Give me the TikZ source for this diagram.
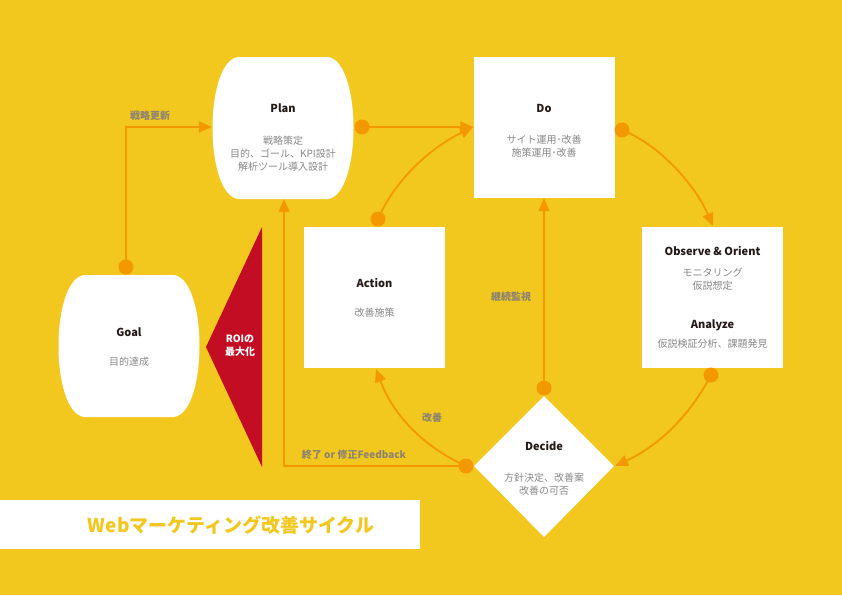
\documentclass[tikz,border=0pt]{standalone}
\usepackage{fontspec}
\setmainfont{Noto Sans CJK JP}
\usetikzlibrary{arrows.meta}
\definecolor{bg}{HTML}{F2C71E}
\definecolor{org}{HTML}{F39800}
\definecolor{redc}{HTML}{C30D23}
\definecolor{tgray}{HTML}{888888}
\definecolor{lgray}{HTML}{8C8470}
\definecolor{dark}{HTML}{231815}
\tikzset{
 box/.style={fill=white,draw=none,minimum width=141pt,minimum height=141pt,inner sep=0pt},
 conn/.style={draw=org,line width=1.8pt,-{Triangle[length=13pt,width=11pt]}},
 dotc/.style={circle,fill=org,minimum size=15pt,inner sep=0pt},
 ttl/.style={font=\fontsize{11}{13}\selectfont\bfseries,text=dark},
 bdy/.style={font=\fontsize{10}{13}\selectfont,text=tgray,align=center},
 lbl/.style={font=\fontsize{10}{12}\selectfont\bfseries,text=lgray}
}
\begin{document}
\begin{tikzpicture}[x=1pt,y=-1pt]
\fill[bg] (0,0) rectangle (842,595);
\useasboundingbox (0,0) rectangle (842,595);
% barrel shapes
\fill[white] (238,57) -- (328,57) .. controls (362,62) and (362,194) .. (328,199) -- (238,199) .. controls (204,194) and (204,62) .. (238,57) -- cycle;
\fill[white] (84,275) -- (174,275) .. controls (208,280) and (208,412) .. (174,417) -- (84,417) .. controls (50,412) and (50,280) .. (84,275) -- cycle;
\node[minimum width=142pt,minimum height=142pt] (plan) at (283,128) {};
\node[minimum width=142pt,minimum height=142pt] (goal) at (129,346) {};
\node[box] (do) at (544,127.5) {};
\node[box] (act) at (374.5,297.5) {};
\node[box] (obs) at (712.5,297.5) {};
\fill[white] (544,396) -- (614,466) -- (544,537) -- (474,466) -- cycle;
\node[minimum width=140pt,minimum height=141pt] (dec) at (544,466) {};
\fill[redc] (262,227) -- (262,467) -- (206,347) -- cycle;
\node[font=\fontsize{10}{13}\selectfont\bfseries,text=white,align=center] (roi) at (240,346) {ROIの\\最大化};
% texts
\node[ttl] (tplan) at (283,108) {Plan};
\node[bdy] (bplan) at (283,154) {戦略策定\\目的、ゴール、KPI設計\\解析ツール導入設計};
\node[ttl] (tgoal) at (129,332) {Goal};
\node[bdy] (bgoal) at (129,362) {目的達成};
\node[ttl] (tdo) at (544,108) {Do};
\node[bdy] (bdo) at (544,146) {サイト運用･改善\\施策運用･改善};
\node[ttl] (tact) at (374.5,283) {Action};
\node[bdy] (bact) at (374.5,313) {改善施策};
\node[ttl] (tobs) at (712.5,251) {Observe \& Orient};
\node[bdy] (bobs) at (712.5,279) {モニタリング\\仮説想定};
\node[ttl] (tana) at (712.5,325) {Analyze};
\node[bdy] (bana) at (712.5,344) {仮説検証分析、課題発見};
\node[ttl] (tdec) at (544,446) {Decide};
\node[bdy] (bdec) at (544,484) {方針決定、改善案\\改善の可否};
% dots
\node[dotc] (d1) at (126,267) {};
\node[dotc] (d2) at (362,127) {};
\node[dotc] (d3) at (378,219) {};
\node[dotc] (d4) at (622,130) {};
\node[dotc] (d5) at (711,375) {};
\node[dotc] (d6) at (544,388) {};
\node[dotc] (d7) at (466,466) {};
\coordinate (c1) at (126,127);
\coordinate (c2) at (284,466);
% connectors
\draw[conn] (d1.center) -- (c1) -- (plan.west |- c1);
\draw[conn] (d2.center) -- (do.west |- d2);
\draw[conn] (d3.center) .. controls (395,180) and (430,148) .. (473,127);
\draw[conn] (d4.center) .. controls (660,145) and (695,185) .. (713,226);
\draw[conn] (d5.center) .. controls (690,415) and (660,445) .. (615,466);
\draw[conn] (d6.center) -- (do.south -| d6);
\draw[conn] (d7.center) -- (c2) -- (284,199);
\draw[conn] (d7.center) .. controls (430,450) and (395,420) .. (376,369);
% labels
\node[lbl] (l1) at (150,116) {戦略更新};
\node[lbl] (l2) at (511,297) {継続監視};
\node[lbl] (l3) at (432,418) {改善};
\node[lbl] (l4) at (354,455) {終了 or 修正Feedback};
% title
\fill[white] (0,500) rectangle (420,549);
\node[font=\fontsize{19}{22}\selectfont\bfseries,text=bg] (title) at (231,525) {Webマーケティング改善サイクル};
\end{tikzpicture}
\end{document}
